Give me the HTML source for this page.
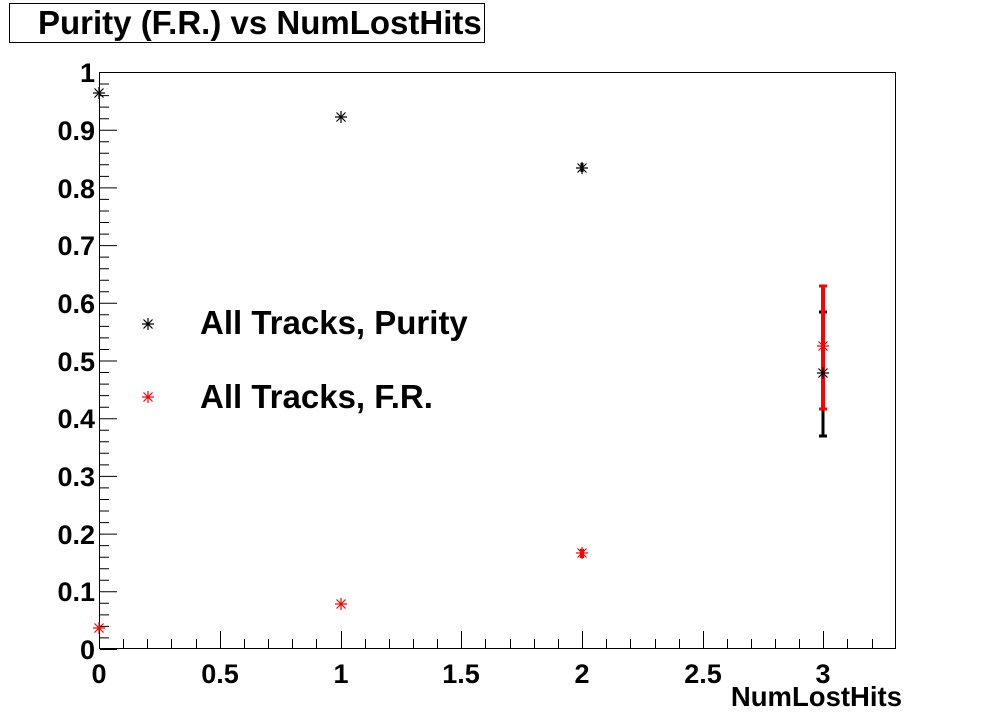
<!DOCTYPE html>
<html><head><meta charset="utf-8"><style>body{margin:0;background:#fff}svg{display:block}</style></head><body>
<svg width="996" height="722" xmlns="http://www.w3.org/2000/svg" font-family="Liberation Sans, sans-serif" font-weight="bold">
<defs>
<g id="st"><path d="M-6,0H6M0,-6V6M-4.5,-4.5L4.5,4.5M-4.5,4.5L4.5,-4.5" stroke-width="1.2"/></g>
</defs>
<rect x="9.5" y="3.5" width="475" height="39" fill="#fff" stroke="#000"/>
<text x="38" y="34" font-size="33">Purity (F.R.) vs NumLostHits</text>
<rect x="99.5" y="72.5" width="796" height="576" fill="none" stroke="#000"/>
<g font-size="27" text-anchor="end">
<text x="95" y="659">0</text><text x="95" y="601">0.1</text><text x="95" y="544">0.2</text><text x="95" y="486">0.3</text><text x="95" y="428">0.4</text><text x="95" y="371">0.5</text><text x="95" y="313">0.6</text><text x="95" y="255">0.7</text><text x="95" y="198">0.8</text><text x="95" y="140">0.9</text><text x="95" y="82">1</text>
</g>
<g font-size="27" text-anchor="middle">
<text x="99" y="683">0</text><text x="220" y="683">0.5</text><text x="341" y="683">1</text><text x="461" y="683">1.5</text><text x="582" y="683">2</text><text x="703" y="683">2.5</text><text x="823" y="683">3</text>
</g>
<text x="902" y="706" font-size="27.5" text-anchor="end">NumLostHits</text>
<g stroke="#000" stroke-width="3">
<path d="M582,163V172M823,312V436"/>
<path d="M819,436H827M819,312H827" stroke-width="3"/>
</g>
<g stroke="#f00" stroke-width="4">
<path d="M823,286V409M582,549V558"/>
<path d="M819,286H827M819,409H827" stroke-width="3"/>
</g>
<g stroke="#000">
<use href="#st" x="99" y="93"/><use href="#st" x="341" y="117"/><use href="#st" x="582" y="168"/><use href="#st" x="823" y="373"/>
<use href="#st" x="148" y="324"/>
</g>
<g stroke="#f00">
<use href="#st" x="99" y="628"/><use href="#st" x="341" y="604"/><use href="#st" x="582" y="553"/><use href="#st" x="823" y="346"/>
<use href="#st" x="148" y="397"/>
</g>
<g font-size="33">
<text x="200" y="334">All Tracks, Purity</text>
<text x="200" y="408">All Tracks, F.R.</text>
</g>
<g stroke="#000" stroke-width="1">
<path d="
M100,649.5h17 M100,591.8h17 M100,534.1h17 M100,476.4h17 M100,418.7h17 M100,361h17 M100,303.3h17 M100,245.6h17 M100,187.9h17 M100,130.2h17 M100,72.5h17
M100,637.9h9 M100,626.4h9 M100,614.9h9 M100,603.3h9
M100,580.3h9 M100,568.7h9 M100,557.2h9 M100,545.6h9
M100,522.6h9 M100,511h9 M100,499.5h9 M100,487.9h9
M100,464.9h9 M100,453.3h9 M100,441.8h9 M100,430.2h9
M100,407.2h9 M100,395.6h9 M100,384.1h9 M100,372.5h9
M100,349.5h9 M100,337.9h9 M100,326.4h9 M100,314.8h9
M100,291.8h9 M100,280.2h9 M100,268.7h9 M100,257.1h9
M100,234.1h9 M100,222.5h9 M100,211h9 M100,199.4h9
M100,176.4h9 M100,164.8h9 M100,153.3h9 M100,141.7h9
M100,118.7h9 M100,107.1h9 M100,95.6h9 M100,84h9
M99.5,648v-17 M220.5,648v-17 M341.5,648v-17 M461.5,648v-17 M582.5,648v-17 M703.5,648v-17 M823.5,648v-17
M123.5,648v-9 M147.5,648v-9 M171.5,648v-9 M196.5,648v-9
M244.5,648v-9 M268.5,648v-9 M292.5,648v-9 M316.5,648v-9
M365.5,648v-9 M389.5,648v-9 M413.5,648v-9 M437.5,648v-9
M485.5,648v-9 M510.5,648v-9 M534.5,648v-9 M558.5,648v-9
M606.5,648v-9 M630.5,648v-9 M655.5,648v-9 M679.5,648v-9
M727.5,648v-9 M751.5,648v-9 M775.5,648v-9 M799.5,648v-9
M847.5,648v-9 M872.5,648v-9"/>
</g>
</svg>
</body></html>
